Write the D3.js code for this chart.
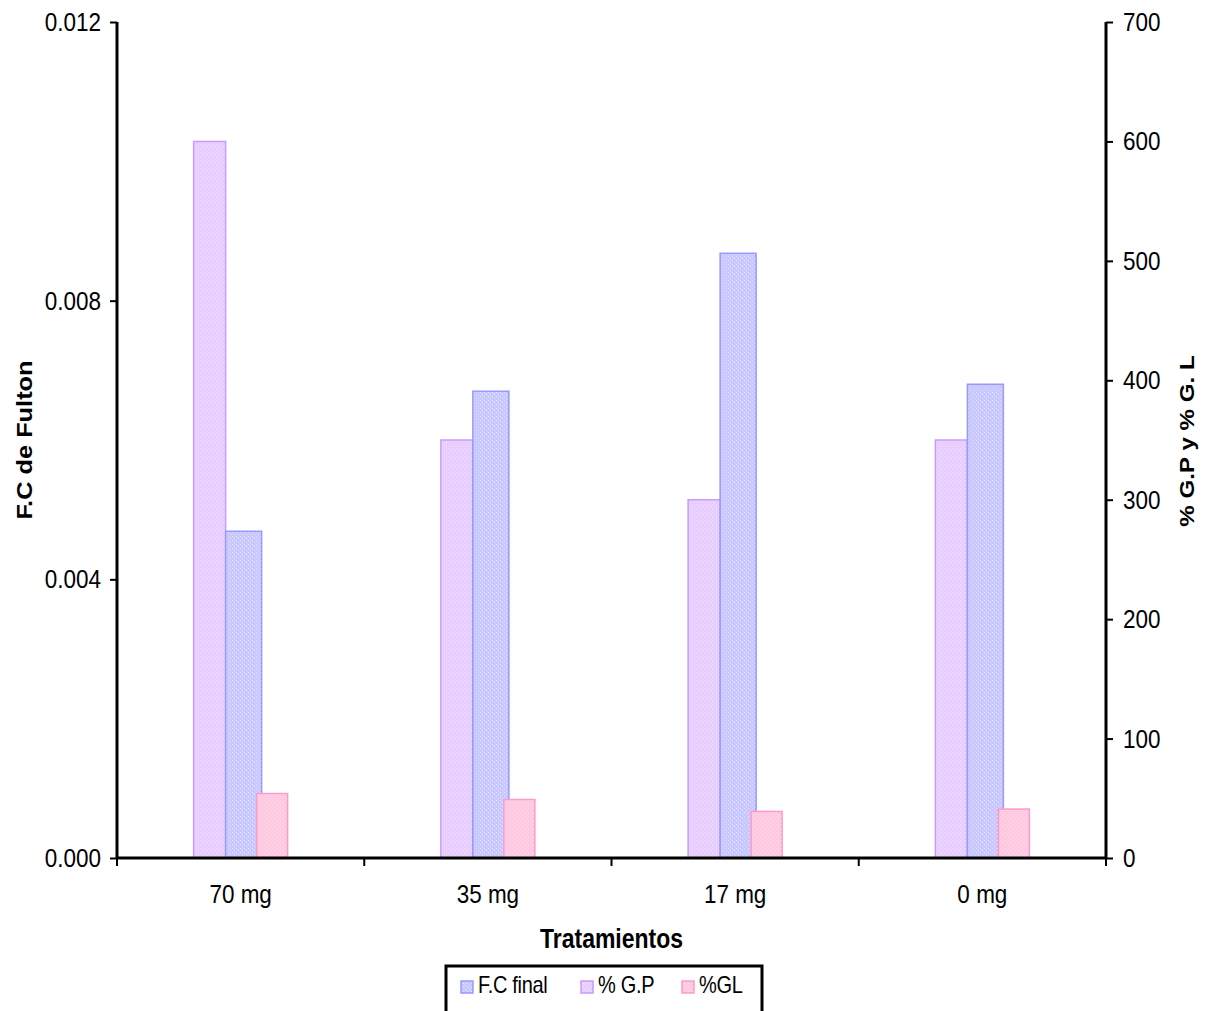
<!DOCTYPE html>
<html>
<head>
<meta charset="utf-8">
<script src="https://cdn.jsdelivr.net/npm/d3@7"></script>
<style>
  body { margin: 0; background: #fff; }
  svg { font-family: "Liberation Sans", Arial, sans-serif; }
</style>
</head>
<body>
<svg id="chart"></svg>
<script>
const width = 1205;
const height = 1011;
const stretch = 1.18; // text in the original is drawn a bit taller than wide

// data
const categories = ["70 mg", "35 mg", "17 mg", "0 mg"];
const fcFinal = [0.00469, 0.00670, 0.00868, 0.00680];   // left axis
const gp = [600, 350, 300, 350];                          // right axis
const gl = [54, 49, 39, 41];                              // right axis
const leftTicks = [0, 0.004, 0.008, 0.012];
const rightTicks = [0, 100, 200, 300, 400, 500, 600, 700];

const margin = { top: 22, right: 99, bottom: 153, left: 117 };

const svg = d3.select("#chart")
  .attr("width", width)
  .attr("height", height);

const x = d3.scaleBand()
  .domain(categories)
  .range([margin.left, width - margin.right]);

const yLeft = d3.scaleLinear()
  .domain([0, 0.012])
  .range([height - margin.bottom, margin.top]);

const yRight = d3.scaleLinear()
  .domain([0, 700])
  .range([height - margin.bottom, margin.top]);

const series = [
  { id: "gp", name: "% G.P", values: gp, scale: yRight, fill: "#e6ccff", dot: "#f4e8ff", stroke: "#cc99ff", x0: -47, x1: -15 },
  { id: "fc", name: "F.C final", values: fcFinal, scale: yLeft, fill: "#c8c8ff", dot: "#e4e4ff", stroke: "#9999ff", x0: -15, x1: 21 },
  { id: "gl", name: "%GL", values: gl, scale: yRight, fill: "#ffc8e0", dot: "#ffe6f0", stroke: "#ff99cc", x0: 16, x1: 47 }
];

// dotted fill patterns
const defs = svg.append("defs");
series.forEach(s => {
  const p = defs.append("pattern")
    .attr("id", "pat-" + s.id)
    .attr("patternUnits", "userSpaceOnUse")
    .attr("width", 4)
    .attr("height", 4);
  p.append("rect").attr("width", 4).attr("height", 4).attr("fill", s.fill);
  p.append("rect").attr("x", 0).attr("y", 0).attr("width", 1).attr("height", 1).attr("fill", s.dot);
  p.append("rect").attr("x", 2).attr("y", 2).attr("width", 1).attr("height", 1).attr("fill", s.dot);
});

series.forEach(s => {
  svg.append("g")
    .selectAll("rect")
    .data(s.values)
    .enter().append("rect")
    .attr("x", (d, i) => x(categories[i]) + x.bandwidth() / 2 + s.x0)
    .attr("width", s.x1 - s.x0)
    .attr("y", d => s.scale(d))
    .attr("height", d => s.scale(0) - s.scale(d))
    .attr("fill", `url(#pat-${s.id})`)
    .attr("stroke", s.stroke)
    .attr("stroke-width", 1.5);
});

// move x/y of a text into a transform so it can be stretched vertically
function stretchText(sel) {
  sel.each(function () {
    const t = d3.select(this);
    const tx = +t.attr("x") || 0;
    const ty = +t.attr("y") || 0;
    t.attr("x", 0).attr("y", 0)
      .attr("transform", `translate(${tx},${ty}) scale(1,${stretch})`);
  });
}

// axes
const leftAxis = svg.append("g")
  .attr("transform", `translate(${margin.left},0)`)
  .call(d3.axisLeft(yLeft).tickValues(leftTicks).tickFormat(d3.format(".3f")).tickSize(7).tickPadding(9));

const rightAxis = svg.append("g")
  .attr("transform", `translate(${width - margin.right},0)`)
  .call(d3.axisRight(yRight).tickValues(rightTicks).tickSize(7).tickPadding(10));

const bottomAxis = svg.append("g")
  .attr("transform", `translate(0,${height - margin.bottom})`)
  .call(d3.axisBottom(x).tickSize(0).tickPadding(26));

// category boundary ticks
bottomAxis.selectAll(".sep")
  .data(d3.range(categories.length + 1))
  .enter().append("line")
  .attr("x1", i => margin.left + i * x.step())
  .attr("x2", i => margin.left + i * x.step())
  .attr("y1", 0)
  .attr("y2", 8)
  .attr("stroke", "#000")
  .attr("stroke-width", 2);

[leftAxis, rightAxis, bottomAxis].forEach(g => {
  g.select(".domain").attr("stroke", "#000").attr("stroke-width", 3);
  g.selectAll(".tick line").attr("stroke", "#000").attr("stroke-width", 2);
  g.selectAll("text")
    .attr("fill", "#000")
    .style("font-size", "22.5px")
    .style("font-family", "Liberation Sans, Arial, sans-serif")
    .call(stretchText);
});

// domain paths without outer ticks
leftAxis.select(".domain").attr("d", `M0,${yLeft(0)}V${margin.top}`);
rightAxis.select(".domain").attr("d", `M0,${yRight(0)}V${margin.top}`);
bottomAxis.select(".domain").attr("d", `M${margin.left},0H${width - margin.right}`);

// titles
svg.append("text")
  .attr("transform", `translate(${(margin.left + width - margin.right) / 2},948) scale(1,${stretch})`)
  .attr("text-anchor", "middle")
  .style("font-size", "23px")
  .style("font-weight", "bold")
  .text("Tratamientos");

svg.append("text")
  .attr("transform", `translate(32,440) rotate(-90) scale(${stretch},1)`)
  .attr("text-anchor", "middle")
  .style("font-size", "21.5px")
  .style("font-weight", "bold")
  .text("F.C de Fulton");

svg.append("text")
  .attr("transform", `translate(1194,441) rotate(-90) scale(${stretch},1)`)
  .attr("text-anchor", "middle")
  .style("font-size", "20.5px")
  .style("font-weight", "bold")
  .text("% G.P y % G. L");

// legend
const legend = svg.append("g");
legend.append("rect")
  .attr("x", 446)
  .attr("y", 966)
  .attr("width", 316)
  .attr("height", 60)
  .attr("fill", "#fff")
  .attr("stroke", "#000")
  .attr("stroke-width", 3);

const legendItems = [
  { s: series[1], x: 461 },
  { s: series[0], x: 581 },
  { s: series[2], x: 682 }
];

const item = legend.selectAll(".item")
  .data(legendItems)
  .enter().append("g")
  .attr("transform", d => `translate(${d.x},981)`);

item.append("rect")
  .attr("width", 12)
  .attr("height", 12)
  .attr("fill", d => `url(#pat-${d.s.id})`)
  .attr("stroke", d => d.s.stroke)
  .attr("stroke-width", 1.5);

item.append("text")
  .attr("transform", `translate(17,12) scale(1,${stretch})`)
  .style("font-size", "20px")
  .style("letter-spacing", "-0.3px")
  .text(d => d.s.name);
</script>
</body>
</html>
